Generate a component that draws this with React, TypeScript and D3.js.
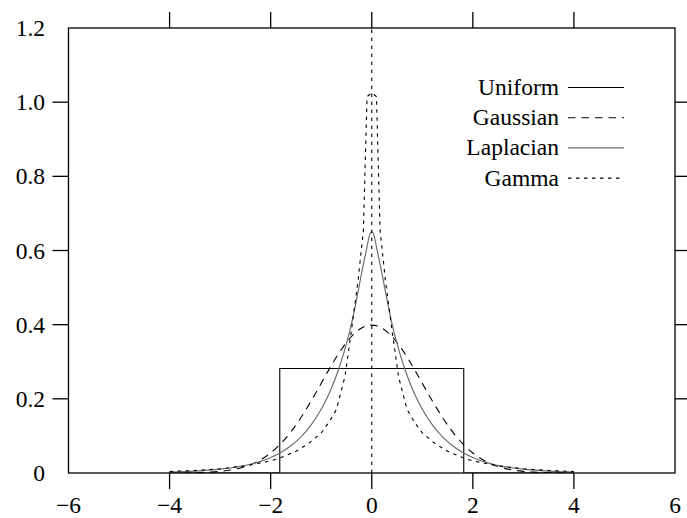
import React from "react";
import * as d3 from "d3";

const xTickValues = [-6, -4, -2, 0, 2, 4, 6];
const yTickValues = [0, 0.2, 0.4, 0.6, 0.8, 1.0, 1.2];
const xTickLabels = ["\u22126", "\u22124", "\u22122", "0", "2", "4", "6"];
const yTickLabels = ["0", "0.2", "0.4", "0.6", "0.8", "1.0", "1.2"];
const seriesNames = ["Uniform", "Gaussian", "Laplacian", "Gamma"];

const uniformX = [-4, -1.82, -1.82, 1.82, 1.82, 4];
const uniformY = [0, 0, 0.282, 0.282, 0, 0];

const gaussX = [-4, -3.8, -3.6, -3.4, -3.2, -3, -2.8, -2.6, -2.4, -2.2, -2, -1.8, -1.6, -1.4, -1.2, -1, -0.8, -0.6, -0.4, -0.2, 0,
  0.2, 0.4, 0.6, 0.8, 1, 1.2, 1.4, 1.6, 1.8, 2, 2.2, 2.4, 2.6, 2.8, 3, 3.2, 3.4, 3.6, 3.8, 4];
const gaussY = [0.0001, 0.0003, 0.0006, 0.0012, 0.0024, 0.0044, 0.0079, 0.0136, 0.0224, 0.0355, 0.054, 0.079, 0.1109, 0.1497, 0.1942, 0.242, 0.2897, 0.3332, 0.3683, 0.391, 0.3989,
  0.391, 0.3683, 0.3332, 0.2897, 0.242, 0.1942, 0.1497, 0.1109, 0.079, 0.054, 0.0355, 0.0224, 0.0136, 0.0079, 0.0044, 0.0024, 0.0012, 0.0006, 0.0003, 0.0001];

const laplaceX = [-4, -3.8, -3.6, -3.4, -3.2, -3, -2.8, -2.6, -2.4, -2.2, -2, -1.8, -1.6, -1.4, -1.2, -1, -0.9, -0.8, -0.7, -0.6, -0.5, -0.4, -0.3, -0.2, -0.1, -0.05, 0,
  0.05, 0.1, 0.2, 0.3, 0.4, 0.5, 0.6, 0.7, 0.8, 0.9, 1, 1.2, 1.4, 1.6, 1.8, 2, 2.2, 2.4, 2.6, 2.8, 3, 3.2, 3.4, 3.6, 3.8, 4];
const laplaceY = [0.0025, 0.0033, 0.0044, 0.0058, 0.0077, 0.0102, 0.0135, 0.0179, 0.0237, 0.0315, 0.0418, 0.0554, 0.0735, 0.0976, 0.13, 0.172, 0.198, 0.228, 0.263, 0.303, 0.349, 0.403, 0.468, 0.54, 0.605, 0.638, 0.65,
  0.638, 0.605, 0.54, 0.468, 0.403, 0.349, 0.303, 0.263, 0.228, 0.198, 0.172, 0.13, 0.0976, 0.0735, 0.0554, 0.0418, 0.0315, 0.0237, 0.0179, 0.0135, 0.0102, 0.0077, 0.0058, 0.0044, 0.0033, 0.0025];

const gammaX = [-4, -3.5, -3, -2.5, -2, -1.83, -1.5, -1.25, -1, -0.85, -0.7, -0.53, -0.4, -0.27, -0.165, -0.093, 0,
  0.093, 0.165, 0.27, 0.4, 0.53, 0.7, 0.85, 1, 1.25, 1.5, 1.83, 2, 2.5, 3, 3.5, 4];
const gammaY = [0.0041, 0.0068, 0.0113, 0.019, 0.0328, 0.0398, 0.0585, 0.0795, 0.108, 0.136, 0.171, 0.26, 0.386, 0.52, 0.655, 1.015, 1.025,
  1.015, 0.655, 0.52, 0.386, 0.26, 0.171, 0.136, 0.108, 0.0795, 0.0585, 0.0398, 0.0328, 0.019, 0.0113, 0.0068, 0.0041];

const gammaSpikeX = [0, 0];
const gammaSpikeY = [0, 1.2];

const W = 687;
const H = 518;
const M = { left: 68.5, right: 675, top: 28, bottom: 473 };
const FONT = "'Liberation Serif', 'Times New Roman', Times, serif";
const FS = 23.5;

const styles = [
  { color: "#000", dash: undefined as string | undefined, width: 1.1, curve: d3.curveLinear },
  { color: "#000", dash: "7.5,6", width: 1.1, curve: d3.curveMonotoneX },
  { color: "#6e6e6e", dash: undefined, width: 1.2, curve: d3.curveMonotoneX },
  { color: "#000", dash: "3.5,4.5", width: 1.1, curve: d3.curveLinear },
];

export default function App() {
  const x = d3.scaleLinear().domain([-6, 6]).range([M.left, M.right]);
  const y = d3.scaleLinear().domain([0, 1.2]).range([M.bottom, M.top]);
  const zip = (a: number[], b: number[]) => a.map((v, i) => [v, b[i]] as [number, number]);

  const series = [
    { name: seriesNames[0], paths: [zip(uniformX, uniformY)] },
    { name: seriesNames[1], paths: [zip(gaussX, gaussY)] },
    { name: seriesNames[2], paths: [zip(laplaceX, laplaceY)] },
    { name: seriesNames[3], paths: [zip(gammaX, gammaY), zip(gammaSpikeX, gammaSpikeY)] },
  ];

  const tickLen = 16;
  const innerX = xTickValues.filter((v) => v !== -6 && v !== 6);
  const innerY = yTickValues.filter((v) => v !== 0 && v !== 1.2);

  const legendTextX = 559;
  const legendLineX1 = 568;
  const legendLineX2 = 624;
  const legendY0 = 87.5;
  const legendDY = 30.2;

  return (
    <svg
      width={W}
      height={H}
      style={{ position: "absolute", left: 0, top: 0, background: "#fff" }}
      fontFamily={FONT}
      fontSize={FS}
    >
      <defs>
        <clipPath id="plotclip">
          <rect x={M.left} y={M.top} width={M.right - M.left} height={M.bottom - M.top} />
        </clipPath>
      </defs>
      <rect x={0} y={0} width={W} height={H} fill="#fff" />

      <g clipPath="url(#plotclip)">
        {series.map((s, i) => {
          const line = d3
            .line<[number, number]>()
            .x((d) => x(d[0]))
            .y((d) => y(d[1]))
            .curve(styles[i].curve);
          return s.paths.map((p, j) => (
            <path
              key={`${i}-${j}`}
              d={line(p) || ""}
              fill="none"
              stroke={styles[i].color}
              strokeWidth={styles[i].width}
              strokeDasharray={styles[i].dash}
            />
          ));
        })}
      </g>

      <rect
        x={M.left}
        y={M.top}
        width={M.right - M.left}
        height={M.bottom - M.top}
        fill="none"
        stroke="#000"
        strokeWidth={1.3}
      />

      {innerX.map((v) => (
        <g key={`xt${v}`}>
          <line x1={x(v)} x2={x(v)} y1={M.bottom} y2={M.bottom + tickLen} stroke="#000" strokeWidth={1.3} />
          <line x1={x(v)} x2={x(v)} y1={M.top} y2={M.top - tickLen} stroke="#000" strokeWidth={1.3} />
        </g>
      ))}
      {innerY.map((v) => (
        <g key={`yt${v}`}>
          <line x1={M.left} x2={M.left - tickLen} y1={y(v)} y2={y(v)} stroke="#000" strokeWidth={1.3} />
          <line x1={M.right} x2={M.right + tickLen} y1={y(v)} y2={y(v)} stroke="#000" strokeWidth={1.3} />
        </g>
      ))}

      {xTickValues.map((v, i) => (
        <text key={`xl${v}`} x={x(v)} y={512.5} textAnchor="middle">
          {xTickLabels[i]}
        </text>
      ))}
      {yTickValues.map((v, i) => (
        <text key={`yl${v}`} x={45} y={y(v) + 8} textAnchor="end">
          {yTickLabels[i]}
        </text>
      ))}

      {series.map((s, i) => {
        const ly = legendY0 + i * legendDY;
        return (
          <g key={`lg${i}`}>
            <text x={legendTextX} y={ly + 7.5} textAnchor="end">
              {s.name}
            </text>
            <line
              x1={legendLineX1}
              x2={legendLineX2}
              y1={ly}
              y2={ly}
              stroke={styles[i].color}
              strokeWidth={styles[i].width}
              strokeDasharray={styles[i].dash}
            />
          </g>
        );
      })}
    </svg>
  );
}
